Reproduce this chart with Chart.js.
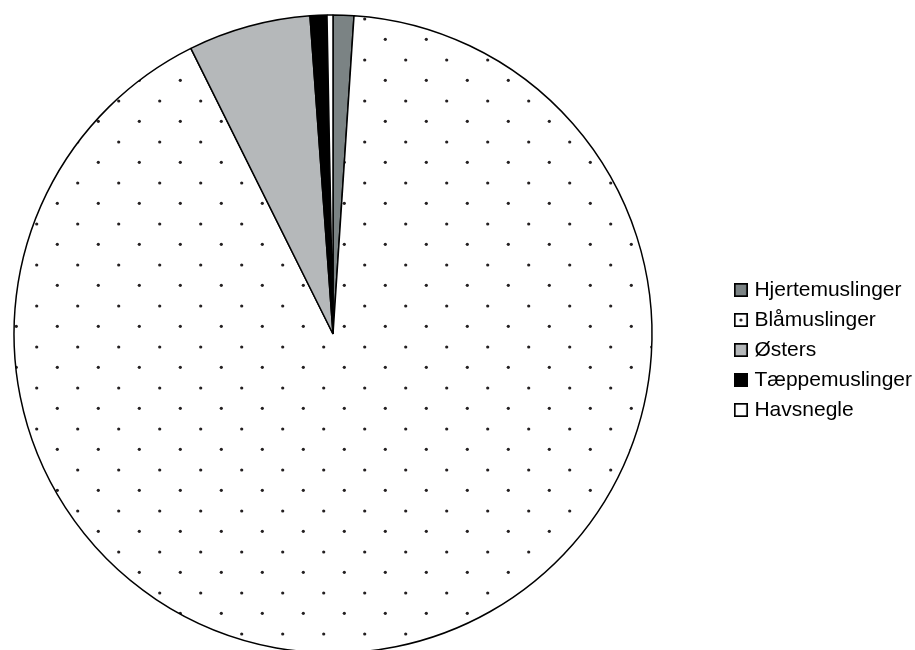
<!DOCTYPE html>
<html>
<head>
<meta charset="utf-8">
<script src="https://cdn.jsdelivr.net/npm/chart.js@4.4.1/dist/chart.umd.min.js"></script>
<style>
    html, body { margin: 0; padding: 0; background: #fff; overflow: hidden; }
    #wrap { width: 922px; height: 668px; position: relative; }
</style>
</head>
<body>
<div id="wrap"><canvas id="pieChart"></canvas></div>
<script>
// データ
const categories = ['Hjertemuslinger', 'Blåmuslinger', 'Østers', 'Tæppemuslinger', 'Havsnegle'];
const shares = [1.05, 91.6, 6.2, 0.85, 0.3];
const sliceColors = ['#7b8384', 'dots', '#b5b8ba', '#000000', '#ffffff'];

// 円の中心 x 座標
const PIE_CENTER_X = 333;

// 点模様のパターン
function makeDotPattern(ctx) {
    const tile = document.createElement('canvas');
    tile.width = 41;
    tile.height = 41;
    const t = tile.getContext('2d');
    t.fillStyle = '#ffffff';
    t.fillRect(0, 0, 41, 41);
    t.fillStyle = '#231f20';
    const dots = [[36.7, 19], [16.3, 39.3]];
    dots.forEach(([x, y]) => {
        for (let ox = -41; ox <= 41; ox += 41) {
            for (let oy = -41; oy <= 41; oy += 41) {
                t.beginPath();
                t.arc(x + ox, y + oy, 1.6, 0, Math.PI * 2);
                t.fill();
            }
        }
    });
    return ctx.createPattern(tile, 'repeat');
}

// 凡例用の小さい四角
function makeLegendBox(color) {
    const c = document.createElement('canvas');
    c.width = 14;
    c.height = 14;
    const g = c.getContext('2d');
    g.fillStyle = color === 'dots' ? '#ffffff' : color;
    g.fillRect(0, 0, 14, 14);
    if (color === 'dots') {
        g.fillStyle = '#231f20';
        g.beginPath();
        g.arc(7, 7, 1.6, 0, Math.PI * 2);
        g.fill();
    }
    g.strokeStyle = '#000';
    g.lineWidth = 1.7;
    g.strokeRect(0.85, 0.85, 12.3, 12.3);
    return c;
}

// 円を左へ寄せる（凡例の位置はそのまま）
const shiftPie = {
    id: 'shiftPie',
    afterLayout(chart) {
        const a = chart.chartArea;
        a.left = 2 * PIE_CENTER_X - a.right;
        a.width = a.right - a.left;
    }
};

const ctx = document.getElementById('pieChart').getContext('2d');
const dotPattern = makeDotPattern(ctx);
const legendBoxes = sliceColors.map(makeLegendBox);

new Chart(ctx, {
    type: 'pie',
    data: {
        labels: categories,
        datasets: [{
            data: shares,
            backgroundColor: sliceColors.map(c => c === 'dots' ? dotPattern : c),
            borderColor: '#000000',
            borderWidth: 1.5
        }]
    },
    plugins: [shiftPie],
    options: {
        responsive: true,
        maintainAspectRatio: false,
        animation: false,
        radius: 319,
        plugins: {
            tooltip: { enabled: false },
            legend: {
                display: true,
                position: 'right',
                align: 'center',
                title: { display: true, text: ' ', font: { size: 10 }, padding: 10 },
                labels: {
                    usePointStyle: true,
                    pointStyleWidth: 6,
                    padding: 9,
                    color: '#000',
                    font: { family: '"Liberation Sans", Arial, sans-serif', size: 21 },
                    generateLabels: function(chart) {
                        return categories.map((name, i) => ({
                            text: name,
                            pointStyle: legendBoxes[i],
                            fillStyle: '#fff',
                            strokeStyle: '#000',
                            fontColor: '#000',
                            lineWidth: 0,
                            hidden: false,
                            index: i
                        }));
                    }
                }
            }
        }
    }
});
</script>
</body>
</html>
